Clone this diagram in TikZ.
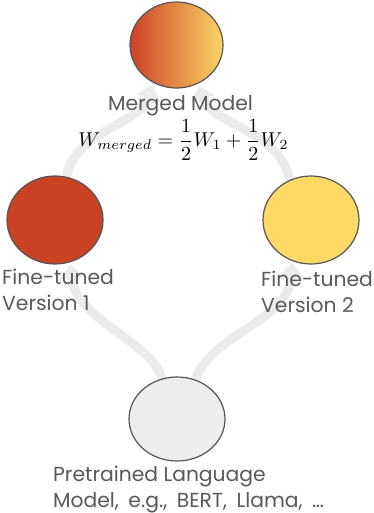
\documentclass[tikz,border=0pt]{standalone}
\usepackage[no-math]{fontspec}
\setmainfont{Poppins}
\usetikzlibrary{shapes.geometric,arrows.meta,backgrounds}
\definecolor{txt}{HTML}{595959}
\definecolor{edgec}{HTML}{555555}
\definecolor{flowc}{HTML}{EBEBEB}
\definecolor{redft}{HTML}{C94224}
\definecolor{yellowft}{HTML}{FFD966}
\definecolor{basec}{HTML}{EEEEEE}
\definecolor{mergeL}{HTML}{CC4125}
\definecolor{mergeR}{HTML}{FBD466}
\begin{document}
\begin{tikzpicture}[x=1pt,y=-1pt,
  model/.style={ellipse, draw=edgec, line width=1.2pt, minimum width=96pt, minimum height=88pt, inner sep=0pt},
  flow/.style={line width=9pt, draw=flowc, -{Triangle[width=24pt,length=14pt]}, shorten >=2pt},
  lbl/.style={text=txt, font=\fontsize{20.3}{25.5}\selectfont, align=left, inner sep=0pt}]
\useasboundingbox (0,0) rectangle (374,513);
% models
\node[model, minimum width=93pt, minimum height=86pt, left color=mergeL, right color=mergeR] (m) at (176.5,45) {};
\node[model, fill=redft] (l) at (55,220) {};
\node[model, fill=yellowft] (r) at (311,220) {};
\node[model, minimum height=84pt, fill=basec] (b) at (177,419) {};
% labels
\node[lbl, anchor=base] (mt) at (180.5,111) {Merged Model};
\node[scale=2, inner sep=0pt] (f) at (183.5,140) {$\displaystyle W_{merged}=\frac{1}{2}W_1+\frac{1}{2}W_2$};
\node[lbl, anchor=base west] (lt) at (2,310) {Fine-tuned\\Version 1};
\node[lbl, anchor=base west] (rt) at (261,312) {Fine-tuned\\Version 2};
\node[lbl, anchor=base west] (bt) at (53,507) {Pretrained Language\\{\spaceskip=9.5pt Model, e.g., BERT, Llama, …}};
% connectors
\begin{scope}[on background layer]
\fill[white] (0,0) rectangle (374,513);
\draw[flow] (b.110) .. controls (150,340) and (75,320) .. (l.-70);
\draw[flow] (b.65) .. controls (210,335) and (290,320) .. (r.-115);
\draw[flow] (l.75) .. controls (75,130) and (140,125) .. (m.-122);
\draw[flow] (r.118) .. controls (280,130) and (212,125) .. (m.-61);
\end{scope}
\end{tikzpicture}
\end{document}
